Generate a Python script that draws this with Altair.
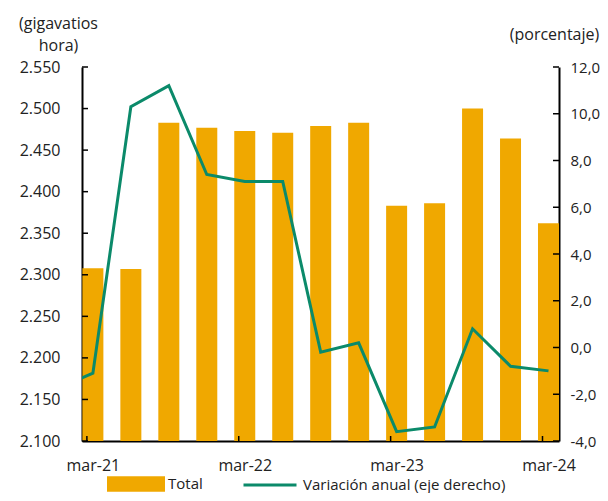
import json
import altair as alt
import pandas as pd

# ---------------- data ----------------
quarters = ["dic-20", "mar-21", "jun-21", "sep-21", "dic-21", "mar-22", "jun-22",
            "sep-22", "dic-22", "mar-23", "jun-23", "sep-23", "dic-23", "mar-24"]
# Total (gigavatios hora), mar-21 .. mar-24
total_gwh = [2308, 2307, 2483, 2477, 2473, 2471, 2479, 2483, 2383, 2386, 2500, 2464, 2362]
# Variación anual (%), dic-20 .. mar-24 (first point only partly visible)
variacion = [-1.8, -1.1, 10.3, 11.2, 7.4, 7.1, 7.1, -0.2, 0.2, -3.6, -3.4, 0.8, -0.8, -1.0]
left_ticks = list(range(2100, 2551, 50))
right_ticks = list(range(-4, 13, 2))
x_label_idx = [0, 4, 8, 12]

ORANGE = "#F0A800"
GREEN = "#0B8A6A"
FONT = "Open Sans"
TXT = "#222222"

bars_df = pd.DataFrame({"i": list(range(len(total_gwh))), "periodo": quarters[1:],
                        "total": total_gwh, "serie": "Total"})
line_df = pd.DataFrame({"i": list(range(-1, len(variacion) - 1)), "periodo": quarters,
                        "var": variacion, "serie": "Variación anual (eje derecho)"})
lt_df = pd.DataFrame({"total": left_ticks})
rt_df = pd.DataFrame({"var": right_ticks})
bt_df = pd.DataFrame({"i": x_label_idx})

W, H = 477, 374

xscale = alt.Scale(domain=[-0.155, 12.145], nice=False, zero=False)
yl_scale = alt.Scale(domain=[2100, 2550], nice=False, zero=False)
yr_scale = alt.Scale(domain=[-4, 12], nice=False, zero=False)

label_expr_x = json.dumps(quarters) + "[datum.value + 1]"

x_axis = alt.Axis(values=x_label_idx, labelExpr=label_expr_x, ticks=False, tickSize=0,
                  grid=False, domainColor="black", domainWidth=2, labelPadding=16,
                  title=None, labelFontSize=16)
yl_axis = alt.Axis(orient="left", values=left_ticks, ticks=False, tickSize=0,
                   grid=False, domainColor="black", domainWidth=2,
                   labelPadding=22, labelFontSize=16,
                   labelExpr="replace(format(datum.value, ','), ',', '.')",
                   title=["(gigavatios", "hora)"], titleAngle=0, titleX=-24,
                   titleY=-39, titleAlign="center", titleBaseline="alphabetic",
                   titleLineHeight=22)
yr_axis = alt.Axis(orient="right", values=right_ticks, ticks=False, tickSize=0,
                   grid=False, domainColor="black", domainWidth=2,
                   labelPadding=11, labelFontSize=15,
                   labelExpr="replace(replace(format(datum.value, '.1f'), '.', ','), '\u2212', '-')",
                   title="(porcentaje)", titleAngle=0, titleX=-5, titleY=-28,
                   titleAlign="center", titleBaseline="alphabetic")

bars = alt.Chart(bars_df).mark_bar(size=21, clip=True).encode(
    x=alt.X("i:Q", scale=xscale, axis=x_axis),
    y=alt.Y("total:Q", scale=yl_scale, axis=yl_axis),
    fill=alt.Fill("serie:N", scale=alt.Scale(range=[ORANGE]),
                  legend=alt.Legend(orient="none", legendX=25, legendY=388, title=None,
                                    symbolType="M-1,-0.27H1V0.27H-1Z", symbolSize=3364,
                                    symbolStrokeWidth=0, symbolOpacity=1,
                                    labelFontSize=15, labelFont=FONT, labelColor=TXT,
                                    labelOffset=3, labelLimit=0)),
)

left_tick_rules = alt.Chart(lt_df).mark_rule(color="black", strokeWidth=1.5).encode(
    y=alt.Y("total:Q", scale=yl_scale, axis=yl_axis),
    x=alt.value(0), x2=alt.value(6),
)

bottom_tick_rules = alt.Chart(bt_df).mark_rule(color="black", strokeWidth=1.5, xOffset=-6).encode(
    x=alt.X("i:Q", scale=xscale, axis=x_axis),
    y=alt.value(H), y2=alt.value(H - 5),
)

line = alt.Chart(line_df).mark_line(clip=True, strokeWidth=3).encode(
    x=alt.X("i:Q", scale=xscale, axis=x_axis),
    y=alt.Y("var:Q", scale=yr_scale, axis=yr_axis),
    stroke=alt.Stroke("serie:N", scale=alt.Scale(range=[GREEN]),
                      legend=alt.Legend(orient="none", legendX=160, legendY=390, title=None,
                                        symbolType="stroke", symbolSize=2809,
                                        symbolStrokeWidth=3, labelFontSize=15,
                                        labelFont=FONT, labelColor=TXT, labelOffset=5,
                                        labelLimit=0)),
    order=alt.Order("i:Q"),
)

right_tick_rules = alt.Chart(rt_df).mark_rule(color="black", strokeWidth=1.5).encode(
    y=alt.Y("var:Q", scale=yr_scale, axis=yr_axis),
    x=alt.value(W), x2=alt.value(W - 6),
)

left_layer = alt.layer(bars, left_tick_rules, bottom_tick_rules)
right_layer = alt.layer(line, right_tick_rules)

chart = alt.layer(left_layer, right_layer).resolve_scale(
    y="independent"
).properties(
    width=W, height=H,
    autosize=alt.AutoSizeParams(type="none"),
    padding={"left": 74, "top": 59, "right": 41, "bottom": 52},
    background="white",
).configure_view(stroke=None).configure_axis(
    labelFont=FONT, titleFont=FONT, labelColor=TXT, titleColor=TXT,
    titleFontWeight="normal", titleFontSize=16,
)

chart.save("out.html", embed_options={"renderer": "svg", "actions": False})
